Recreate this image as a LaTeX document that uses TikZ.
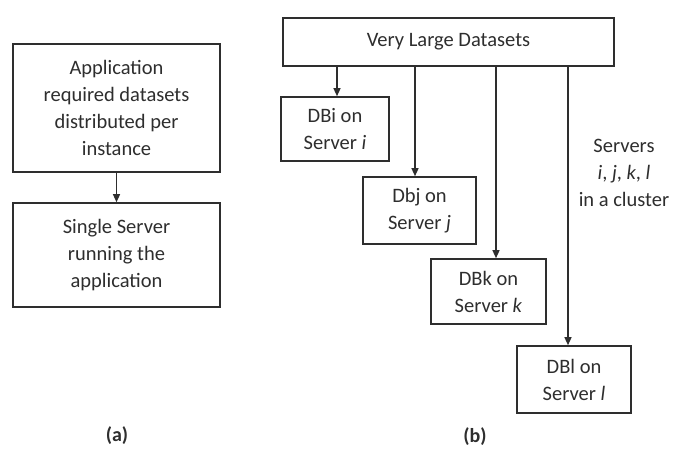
\documentclass[tikz,border=0pt]{standalone}
\usepackage{fontspec}
\setmainfont{Carlito}
\usepackage{tikz}
\usetikzlibrary{positioning,arrows.meta,calc}

\definecolor{inkgray}{HTML}{2E2E2E}

\begin{document}
\begin{tikzpicture}[
  x=1pt, y=-1pt,
  font=\fontsize{20.5}{27}\selectfont,
  text=inkgray,
  box/.style={rectangle, draw=inkgray, line width=1.6pt, align=center,
              inner sep=2pt, fill=white},
  flow/.style={-{Triangle[length=8pt,width=7pt]}, line width=1.3pt, draw=inkgray},
  caption/.style={font=\fontsize{20}{22}\selectfont\bfseries}
]
\useasboundingbox (0,0) rectangle (677,457);

% (a) one server holding everything
\node[box, minimum width=207pt, minimum height=128pt] (app) at (116.5,108)
  {Application\\required datasets\\distributed per\\instance};
\node[box, minimum width=207pt, minimum height=104pt] (single) at (116.5,255)
  {Single Server\\running the\\application};
\draw[flow] (app) -- (single);

% (b) datasets split over a cluster
\node[box, minimum width=331pt, minimum height=48pt] (vld) at (448.5,42) {Very Large Datasets};
\node[box, minimum width=108pt, minimum height=64pt] (dbi) at (335,129)   {DBi on\\Server \textit{i}};
\node[box, minimum width=113pt, minimum height=67pt] (dbj) at (419.5,210.5) {Dbj on\\Server \textit{j}};
\node[box, minimum width=115pt, minimum height=65pt] (dbk) at (488.5,291.5) {DBk on\\Server \textit{k}};
\node[box, minimum width=114pt, minimum height=67pt] (dbl) at (574,379.5) {DBl on\\Server \textit{l}};

\node[align=center] (cluster) at (624,173) {Servers\\\textit{i}, \textit{j}, \textit{k}, \textit{l}\\in a cluster};

% Flow arrows
\draw[flow] (vld.south -| dbi.north) ++(2,0) coordinate (ti) -- (ti |- dbi.north);
\draw[flow] ([xshift=-4.5pt]vld.south -| dbj.north) -- ([xshift=-4.5pt]dbj.north);
\draw[flow] ([xshift=7.5pt]vld.south -| dbk.north) -- ([xshift=7.5pt]dbk.north);
\draw[flow] ([xshift=-6pt]vld.south -| dbl.north) -- ([xshift=-6pt]dbl.north);

% Captions
\node[caption] (capa) at (117,436) {(a)};
\node[caption] (capb) at (475,437) {(b)};
\end{tikzpicture}
\end{document}
